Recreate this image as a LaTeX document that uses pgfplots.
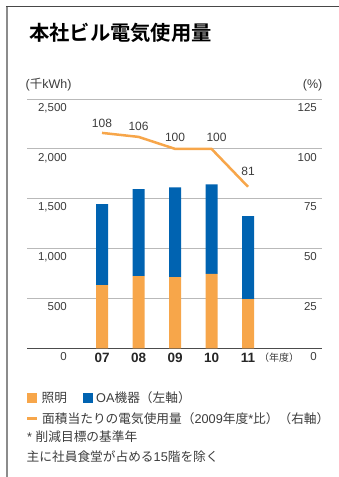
\documentclass[border=0pt]{standalone}
\usepackage{fontspec}
\setmainfont{Liberation Sans}
\newfontfamily\jp{Noto Sans CJK JP}
\newfontfamily\jpb{Noto Sans CJK JP Bold}
\usepackage{pgfplots}
\usepackage{pgfplotstable}
\pgfplotsset{compat=1.18}

\definecolor{barorange}{RGB}{247,166,74}
\definecolor{barblue}{RGB}{0,99,177}
\definecolor{gridgray}{RGB}{185,185,185}
\definecolor{txt}{RGB}{60,60,60}

% electricity use by fiscal year (thousand kWh)
\pgfplotstableread{
x light oa
0 633 812
1 723 872
2 713 902
3 746 899
4 493 832
}\usage

% use per floor area, index vs. FY2009 (%), with label offsets
\pgfplotstableread{
x y lab dx dy
0 108 108 0 4.5
1 106 106 0 5.5
2 100 100 0 6
3 100 100 5 6
4 81 81 0 9.5
}\ratio

\begin{document}
\begin{tikzpicture}[x=1pt,y=1pt]
\path[use as bounding box] (0,0) rectangle (339,477);

% frame
\draw[black!45, line width=1.6pt] (7,0) -- (7,471);
\draw[black!72, line width=1.8pt] (6.2,470.5) -- (339,470.5);

% title
\node[anchor=west, inner sep=0pt] at (29,444)
  {\jpb\fontsize{20.3}{21}\selectfont 本社ビル電気使用量};

% unit labels
\node[anchor=west, inner sep=0pt, text=txt] at (25.5,392)
  {\fontsize{12.5}{13}\selectfont (\jp 千\rmfamily kWh)};
\node[anchor=east, inner sep=0pt, text=txt] at (322.5,392)
  {\fontsize{12.5}{13}\selectfont (\%)};

\begin{axis}[
  at={(27pt,128.7pt)}, anchor=south west,
  scale only axis, width=295pt, height=249.3pt,
  xmin=-2.055, xmax=6.027, ymin=0, ymax=2500,
  ybar stacked, bar width=12pt,
  axis line style={draw=none},
  major tick length=0pt,
  ytick={0,500,1000,1500,2000,2500},
  yticklabels={0,500,{1,000},{1,500},{2,000},{2,500}},
  yticklabel style={anchor=north east, inner sep=0pt, xshift=40pt, yshift=-4pt,
    font=\fontsize{11.5}{12}\selectfont, text=txt},
  xtick={0,1,2,3,4}, xticklabels={07,08,09,10,11},
  xticklabel style={anchor=north, inner sep=0pt, yshift=-5pt,
    font=\fontsize{13.5}{14}\selectfont\bfseries, text=black!85},
  ymajorgrids, grid style={gridgray, line width=0.9pt},
  clip=false,
]
\addplot[fill=barorange, draw=none] table[x=x, y=light] {\usage};
\addplot[fill=barblue, draw=none] table[x=x, y=oa] {\usage};
\draw[black!70, line width=1.3pt] (rel axis cs:0,0) -- (rel axis cs:1,0);
\end{axis}

\begin{axis}[
  at={(27pt,128.7pt)}, anchor=south west,
  scale only axis, width=295pt, height=249.3pt,
  xmin=-2.055, xmax=6.027, ymin=0, ymax=125,
  axis y line*=right, hide x axis,
  axis line style={draw=none},
  major tick length=0pt,
  ytick={0,25,50,75,100,125},
  /pgf/number format/assume math mode=true,
  yticklabel style={anchor=north east, inner sep=0pt, xshift=-5pt, yshift=-4pt,
    font=\fontsize{11.5}{12}\selectfont, text=txt},
  clip=false,
]
\addplot[barorange, line width=2.5pt, mark=none,
  point meta=explicit symbolic,
  visualization depends on={\thisrow{dx} \as \ldx},
  visualization depends on={\thisrow{dy} \as \ldy},
  nodes near coords,
  nodes near coords style={anchor=south, inner sep=0pt, text=txt,
    font=\fontsize{12}{12}\selectfont, xshift=\ldx pt, yshift=\ldy pt},
] table[x=x, y=y, meta=lab] {\ratio};
\end{axis}

% fiscal-year unit
\node[inner sep=0pt, text=txt] at (279,119)
  {\jp\fontsize{10}{10}\selectfont （年度）};

% legend
\fill[barorange] (27,74) rectangle (37,84);
\node[anchor=west, inner sep=0pt, text=txt] at (41.5,79)
  {\jp\fontsize{12.7}{13}\selectfont 照明};
\fill[barblue] (83,74) rectangle (93,84);
\node[anchor=west, inner sep=0pt, text=txt] at (96,79)
  {\fontsize{12.7}{13}\selectfont OA\jp 機器（左軸）};
\draw[barorange, line width=2.6pt] (27,58.7) -- (37,58.7);
\node[anchor=west, inner sep=0pt, text=txt] at (42,58.7)
  {\fontsize{12.7}{13}\selectfont\jp 面積当たりの電気使用量（\rmfamily 2009\jp 年度\rmfamily *\jp 比）（右軸）};
\node[anchor=west, inner sep=0pt, text=txt] at (27,40)
  {\fontsize{12.7}{13}\selectfont * \jp 削減目標の基準年};
\node[anchor=west, inner sep=0pt, text=txt] at (26.5,20)
  {\fontsize{12.7}{13}\selectfont\jp 主に社員食堂が占める\rmfamily 15\jp 階を除く};
\end{tikzpicture}
\end{document}
